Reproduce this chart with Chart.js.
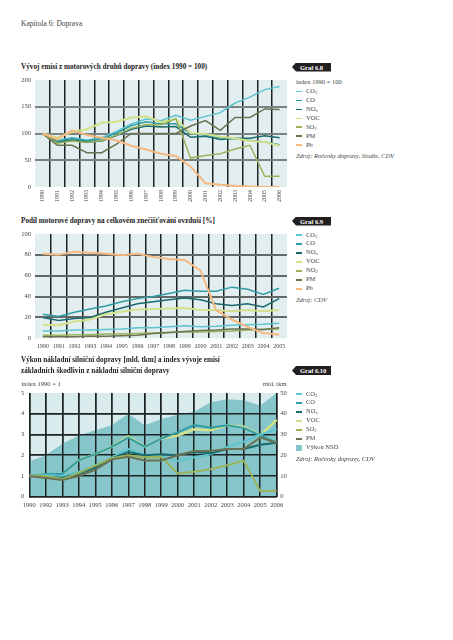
<!DOCTYPE html>
<html>
<head>
<meta charset="utf-8">
<script src="https://cdn.jsdelivr.net/npm/chart.js@4"></script>
<style>
  body { margin: 0; width: 453px; height: 640px; position: relative; overflow: hidden; background: #fff;
         font-family: "Liberation Serif", serif; color: #333; }
  .txt { position: absolute; white-space: nowrap; }
  .head { left: 21px; top: 19px; font-size: 7.5px; color: #444; }
  .title { left: 21px; font-weight: bold; font-size: 8px; line-height: 10.5px; color: #222;
           transform: scaleX(0.9); transform-origin: 0 0; }
  .badge { position: absolute; left: 292px; width: 39px; height: 9px; background: #231f20; color: #fff;
           font-weight: bold; font-size: 6.5px; line-height: 9px; padding-left: 8px; box-sizing: border-box;
           clip-path: polygon(0 50%, 4px 0, 100% 0, 100% 100%, 4px 100%); }
  .leg { position: absolute; left: 296px; font-size: 6.5px; line-height: 8.95px; color: #444; }
  .leg .m { display: inline-block; width: 6px; height: 1.6px; vertical-align: middle; margin-right: 4px; }
  .leg .sq { display: inline-block; width: 6px; height: 6px; vertical-align: middle; margin-right: 4px; }
  .leg sub { font-size: 4.5px; vertical-align: -1px; line-height: 0; }
  .leg .src { font-style: italic; margin-top: 2.5px; }
  .axl { font-size: 6.5px; color: #444; }
  canvas { position: absolute; left: 0; }
</style>
</head>
<body>
<div class="txt head">Kapitola 6: Doprava</div>

<div class="txt title" style="top:61.5px">Vývoj emisí z motorových druhů dopravy (index 1990 = 100)</div>
<div class="badge" style="top:62.5px">Graf 6.8</div>
<div class="leg" id="leg1" style="top:78px"></div>
<canvas id="c1" width="295" height="140" style="top:72px"></canvas>

<div class="txt title" style="top:215.5px">Podíl motorové dopravy na celkovém znečišťování ovzduší [%]</div>
<div class="badge" style="top:216.5px">Graf 6.9</div>
<div class="leg" id="leg2" style="top:230.5px"></div>
<canvas id="c2" width="295" height="130" style="top:226px"></canvas>

<div class="txt title" style="top:355px">Výkon nákladní silniční dopravy [mld. tkm] a index vývoje emisí<br>základních škodlivin z nákladní silniční dopravy</div>
<div class="badge" style="top:366px">Graf 6.10</div>
<div class="txt axl" style="left:21.5px;top:380px">index 1990 = 1</div>
<div class="txt axl" style="left:263px;top:380px">mld. tkm</div>
<div class="leg" id="leg3" style="top:389.5px"></div>
<canvas id="c3" width="300" height="135" style="top:380px"></canvas>

<script>
// --- graf 6.8: index 1990 = 100
const years1 = ['1990','1991','1992','1993','1994','1995','1996','1997','1998','1999','2000','2001','2002','2003','2004','2005','2006']
const co2_1 = [100, 87, 92, 88, 92, 104, 118, 127, 124, 134, 125, 132, 139, 157, 168, 182, 188]
const co_1  = [100, 85, 91, 86, 90, 101, 115, 122, 118, 118, 100, 97, 92, 90, 87, 84, 79]
const nox_1 = [100, 83, 88, 84, 86, 96, 108, 114, 112, 113, 93, 95, 89, 91, 91, 96, 92]
const voc_1 = [100, 92, 103, 108, 120, 122, 130, 132, 121, 127, 101, 99, 94, 91, 86, 84, 77]
const so2_1 = [100, 82, 86, 83, 87, 97, 110, 117, 116, 128, 54, 59, 62, 71, 78, 20, 20]
const pm_1  = [100, 78, 78, 64, 64, 80, 100, 100, 100, 100, 114, 124, 106, 130, 130, 146, 145]
const pb_1  = [100, 89, 106, 97, 92, 87, 77, 70, 62, 58, 38, 7, 4, 2, 1, 0, 0]
const yTicks1 = [0, 50, 100, 150, 200]

// --- graf 6.9: podil v %
const years2 = ['1990','1991','1992','1993','1994','1995','1996','1997','1998','1999','2000','2001','2002','2003','2004','2005']
const co2_2 = [7, 7, 8, 8, 8.5, 9, 10, 10, 11, 12, 11, 11.5, 12.5, 13, 13.5, 14.5]
const co_2  = [23, 21, 25, 28, 31, 35, 38, 40, 43, 46, 45, 45, 49, 47, 42, 48]
const nox_2 = [20, 17, 19, 20, 25, 29, 33, 35, 37, 38.5, 37, 33, 31.5, 33, 30, 38]
const voc_2 = [13, 12.5, 16, 18, 23, 25.5, 27.5, 28, 28.5, 29, 27, 27, 26, 27, 26, 27]
const no2_2 = [3, 3, 3.5, 3.5, 4, 4, 4.5, 5, 5.5, 6, 6, 6.5, 7, 8, 8.5, 9]
const pm_2  = [1.5, 1.5, 1.5, 2, 2, 2.5, 3, 4.5, 5.5, 6.5, 7.5, 8, 9, 9, 8.5, 10]
const pb_2  = [81, 80, 83, 82, 81, 79.5, 81, 78, 76, 75, 65, 27, 18, 11, 5, 3.5]
const yTicks2 = [0, 20, 40, 60, 80, 100]

// --- graf 6.10: index 1990 = 1 + vykon NSD (mld. tkm)
const years3 = ['1990','1992','1993','1994','1995','1996','1997','1998','1999','2000','2001','2002','2003','2004','2005','2006']
const nsd_3 = [17, 20, 25.5, 29.5, 32, 34.5, 40, 34.5, 37.5, 39.5, 41, 45.5, 47, 46.5, 44, 50]
const co2_3 = [1, 1.05, 1.0, 1.2, 1.5, 1.9, 2.3, 2.0, 1.95, 1.72, 1.9, 2.05, 2.4, 2.65, 3.0, 3.25]
const co_3  = [1, 1.1, 1.1, 1.75, 2.05, 2.4, 2.85, 2.4, 2.8, 3.1, 3.45, 3.32, 3.45, 3.32, 2.95, 2.6]
const nox_3 = [1, 0.95, 0.9, 1.1, 1.4, 1.85, 2.15, 2.0, 2.05, 2.0, 2.15, 2.1, 2.3, 2.3, 2.5, 2.6]
const voc_3 = [1, 1.08, 1.08, 1.75, 2.05, 2.4, 2.9, 2.4, 2.8, 2.95, 3.25, 3.2, 3.45, 3.38, 2.95, 3.7]
const so2_3 = [1, 1.0, 0.85, 1.15, 1.5, 1.85, 2.0, 1.9, 1.92, 1.12, 1.2, 1.32, 1.52, 1.73, 0.27, 0.27]
const pm_3  = [1, 0.9, 0.8, 1.0, 1.3, 1.8, 1.92, 1.75, 1.75, 2.0, 2.2, 2.2, 2.3, 2.3, 2.85, 2.6]
const yTicks3 = [0, 1, 2, 3, 4, 5]
const y2Ticks3 = [0, 10, 20, 30, 40, 50]

const colors = {
    CO2: '#5cc4cf', CO: '#2f9da3', NOx: '#1b6a6e', VOC: '#d3e28a',
    SO2: '#9bb45b', NO2: '#9bb45b', PM: '#6b7251', Pb: '#f5b87f', NSD: '#86c6ca'
}
const tickFont = { family: 'Liberation Serif', size: 6.5 }

// plot background
const plotBg = {
    id: 'plotBg',
    beforeDraw(chart, args, opts) {
        const { ctx, chartArea: a } = chart
        ctx.save()
        ctx.fillStyle = opts.color
        ctx.fillRect(a.left, a.top, a.right - a.left, a.bottom - a.top)
        ctx.restore()
    }
}
// grid over the area fill (graf 6.10)
const gridOverArea = {
    id: 'gridOverArea',
    afterDatasetDraw(chart, args) {
        if (chart.data.datasets[args.index].isArea) {
            chart.scales.x.drawGrid(chart.chartArea)
            chart.scales.y.drawGrid(chart.chartArea)
        }
    }
}

function line(label, data, color, width) {
    return {
        label, data, borderColor: color, backgroundColor: color,
        borderWidth: width || 1.5, pointRadius: 0, tension: 0, fill: false
    }
}

function legendHtml(id, header, items, source) {
    const sub = s => s.replace(/^([A-Z]+)([2x])$/, '$1<sub>$2</sub>')
    let html = header ? `<div>${header}</div>` : ''
    html += items.map(([name, color, sq]) =>
        `<div><span class="${sq ? 'sq' : 'm'}" style="background:${color}"></span>${sub(name)}</div>`
    ).join('')
    html += `<div class="src">${source}</div>`
    document.getElementById(id).innerHTML = html
}

function hideEnds(max, color) {
    return c => (c.tick && (c.tick.value === 0 || c.tick.value === max)) ? 'transparent' : color
}

// ---------- graf 6.8
new Chart(document.getElementById('c1'), {
    type: 'line',
    data: {
        labels: years1,
        datasets: [
            line('Pb', pb_1, colors.Pb, 2),
            line('PM', pm_1, colors.PM),
            line('SO2', so2_1, colors.SO2),
            line('VOC', voc_1, colors.VOC, 2),
            line('NOx', nox_1, colors.NOx),
            line('CO', co_1, colors.CO),
            line('CO2', co2_1, colors.CO2)
        ]
    },
    options: {
        responsive: false, animation: false,
        layout: { padding: { top: 8, right: 8, left: 0, bottom: 0 } },
        plugins: { legend: { display: false }, tooltip: { enabled: false }, plotBg: { color: '#e3eef0' } },
        scales: {
            x: {
                offset: true,
                grid: { offset: true, drawTicks: false, lineWidth: 1.5,
                        color: c => (c.type !== 'tick' || c.index === 0) ? 'transparent' : '#1d2222' },
                border: { display: false },
                ticks: { autoSkip: false, minRotation: 90, maxRotation: 90, padding: 3, font: { ...tickFont, size: 6 }, color: '#444' },
                afterFit: s => { s.height = 25; s.paddingLeft = 0; s.paddingRight = 0 }
            },
            y: {
                min: 0, max: 200,
                afterBuildTicks: s => { s.ticks = yTicks1.map(v => ({ value: v })) },
                grid: { drawTicks: false, lineWidth: 2, color: hideEnds(200, '#7c8181') },
                border: { display: false },
                ticks: { padding: 4, font: tickFont, color: '#444' },
                afterFit: s => { s.width = 35 }
            }
        }
    },
    plugins: [plotBg]
})
legendHtml('leg1', 'index 1990 = 100', [
    ['CO2', colors.CO2], ['CO', colors.CO], ['NOx', colors.NOx], ['VOC', colors.VOC],
    ['SO2', colors.SO2], ['PM', colors.PM], ['Pb', colors.Pb]
], 'Zdroj: Ročenky dopravy, Studie, CDV')

// ---------- graf 6.9
new Chart(document.getElementById('c2'), {
    type: 'line',
    data: {
        labels: years2,
        datasets: [
            line('Pb', pb_2, colors.Pb, 2),
            line('PM', pm_2, colors.PM),
            line('NO2', no2_2, colors.NO2),
            line('VOC', voc_2, colors.VOC, 2),
            line('NOx', nox_2, colors.NOx),
            line('CO', co_2, colors.CO),
            line('CO2', co2_2, colors.CO2)
        ]
    },
    options: {
        responsive: false, animation: false,
        layout: { padding: { top: 6.7, right: 8, left: 0, bottom: 0 } },
        plugins: { legend: { display: false }, tooltip: { enabled: false }, plotBg: { color: '#e3eef0' } },
        scales: {
            x: {
                offset: true,
                grid: { offset: true, drawTicks: false, lineWidth: 1.5,
                        color: c => (c.type !== 'tick' || c.index === 0) ? 'transparent' : '#1d2222' },
                border: { display: false },
                ticks: { autoSkip: false, maxRotation: 0, padding: 5, font: { ...tickFont, size: 6 }, color: '#444' },
                afterFit: s => { s.height = 17.7; s.paddingLeft = 0; s.paddingRight = 0 }
            },
            y: {
                min: 0, max: 100,
                afterBuildTicks: s => { s.ticks = yTicks2.map(v => ({ value: v })) },
                grid: { drawTicks: false, lineWidth: 2, color: hideEnds(100, '#626767') },
                border: { display: false },
                ticks: { padding: 4, font: tickFont, color: '#444' },
                afterFit: s => { s.width = 35 }
            }
        }
    },
    plugins: [plotBg]
})
legendHtml('leg2', '', [
    ['CO2', colors.CO2], ['CO', colors.CO], ['NOx', colors.NOx], ['VOC', colors.VOC],
    ['NO2', colors.NO2], ['PM', colors.PM], ['Pb', colors.Pb]
], 'Zdroj: CDV')

// ---------- graf 6.10
const area3 = {
    label: 'Výkon NSD', data: nsd_3, yAxisID: 'y2', isArea: true, order: 10,
    fill: 'origin', backgroundColor: colors.NSD, borderWidth: 0, pointRadius: 0, tension: 0
}
new Chart(document.getElementById('c3'), {
    type: 'line',
    data: {
        labels: years3,
        datasets: [
            area3,
            line('PM', pm_3, colors.PM, 2),
            line('SO2', so2_3, colors.SO2, 2),
            line('NOx', nox_3, colors.NOx, 2),
            line('CO2', co2_3, colors.CO2, 2),
            line('CO', co_3, colors.CO, 2),
            line('VOC', voc_3, colors.VOC, 2.5)
        ]
    },
    options: {
        responsive: false, animation: false,
        layout: { padding: { top: 13, right: 0, left: 0, bottom: 0 } },
        plugins: { legend: { display: false }, tooltip: { enabled: false }, plotBg: { color: '#d9ebec' } },
        scales: {
            x: {
                offset: false,
                grid: { drawTicks: false, lineWidth: 1.5, color: '#1d2222' },
                border: { display: false },
                ticks: { autoSkip: false, maxRotation: 0, padding: 5, font: tickFont, color: '#444' },
                afterFit: s => { s.height = 18.3; s.paddingLeft = 0; s.paddingRight = 0 }
            },
            y: {
                position: 'left', min: 0, max: 5,
                afterBuildTicks: s => { s.ticks = yTicks3.map(v => ({ value: v })) },
                grid: { drawTicks: false, lineWidth: 1.5, color: c => (c.tick && c.tick.value === 5) ? 'transparent' : '#1d2222' },
                border: { display: false },
                ticks: { padding: 5, font: tickFont, color: '#444' },
                afterFit: s => { s.width = 29.3 }
            },
            y2: {
                position: 'right', min: 0, max: 50,
                afterBuildTicks: s => { s.ticks = y2Ticks3.map(v => ({ value: v })) },
                grid: { display: false, drawTicks: false },
                border: { display: false },
                ticks: { padding: 3.5, font: tickFont, color: '#444' },
                afterFit: s => { s.width = 23.3 }
            }
        }
    },
    plugins: [plotBg, gridOverArea]
})
legendHtml('leg3', '', [
    ['CO2', colors.CO2], ['CO', colors.CO], ['NOx', colors.NOx], ['VOC', colors.VOC],
    ['SO2', colors.SO2], ['PM', colors.PM], ['Výkon NSD', colors.NSD, true]
], 'Zdroj: Ročenky dopravy, CDV')
</script>
</body>
</html>
